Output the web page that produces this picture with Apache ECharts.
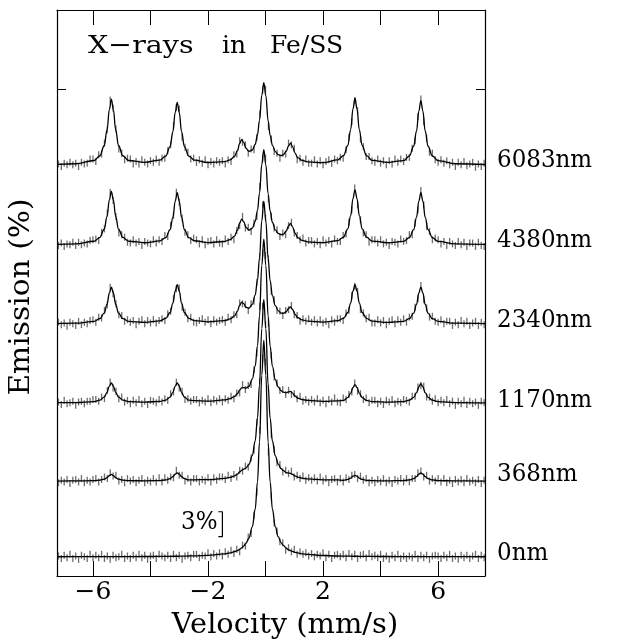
<!DOCTYPE html>
<html><head><meta charset="utf-8">
<script src="https://cdn.jsdelivr.net/npm/echarts@6/dist/echarts.min.js"></script>
<style>html,body{margin:0;padding:0;background:#fff}#c{width:625px;height:642px}</style>
</head><body><div id="c"></div>
<script>
// Spectrum labels (bottom to top) and vertical offsets (in %)
const labels = ['0nm', '368nm', '1170nm', '2340nm', '4380nm', '6083nm'];
const offsets = [2.3, 11.4, 20.8, 30.3, 39.8, 49.4];
const xTicks = [-6, -4, -2, 0, 2, 4, 6];
const xTickLabels = [-6, -2, 2, 6];
const yTicks = [58.5];
// 3% scale bar (velocity, emission)
const scaleBarX = [-1.64, -1.50, -1.50, -1.64];
const scaleBarY = [7.72, 7.72, 4.72, 4.72];

// Fitted curves: velocity samples and emission (%) above each baseline
const fitVelocity = [-7.25,-6.6,
-5.96,-5.76,-5.61,-5.51,-5.43,-5.36,-5.29,-5.21,-5.11,-4.96,-4.76,
-4.2,
-3.67,-3.47,-3.32,-3.22,-3.14,-3.07,-3.00,-2.92,-2.82,-2.67,-2.47,
-2.0,
-1.43,-1.23,-1.08,-0.98,-0.90,-0.83,-0.76,-0.68,-0.58,-0.46,-0.36,-0.28,-0.21,-0.13,-0.06,0.01,0.09,0.16,0.24,0.34,0.44,0.54,0.62,0.72,0.80,0.87,0.94,1.02,1.12,1.27,1.47,
2.0,
2.51,2.71,2.86,2.96,3.04,3.11,3.18,3.26,3.36,3.51,3.71,
4.25,
4.80,5.00,5.15,5.25,5.33,5.40,5.47,5.55,5.65,5.80,6.00,
6.6,7.63];
const fit0 = [0.01,0.02,
0.02,0.02,0.02,0.02,0.02,0.02,0.02,0.02,0.03,0.03,0.03,
0.04,
0.05,0.06,0.06,0.07,0.07,0.07,0.08,0.08,0.09,0.1,0.12,
0.17,
0.35,0.47,0.62,0.75,0.91,1.07,1.3,1.63,2.24,3.59,5.72,9.0,13.78,21.84,26.0,21.84,13.78,9.0,5.72,3.59,2.42,1.72,1.38,1.04,0.86,0.75,0.65,0.55,0.47,0.36,0.29,
0.16,
0.1,0.09,0.08,0.08,0.07,0.07,0.07,0.06,0.06,0.06,0.05,
0.04,
0.03,0.03,0.03,0.02,0.02,0.02,0.02,0.02,0.02,0.02,0.02,
0.02,0.01];
const fit368 = [0.01,0.02,
0.05,0.11,0.23,0.42,0.67,0.8,0.67,0.42,0.23,0.11,0.05,
0.04,
0.07,0.14,0.29,0.53,0.84,1.0,0.84,0.53,0.29,0.14,0.16,
0.18,
0.32,0.45,0.64,0.84,1.1,1.29,1.43,1.57,1.99,3.07,4.84,7.57,11.57,18.33,21.82,18.32,11.56,7.55,4.82,3.03,2.07,1.5,1.25,1.03,0.97,0.93,0.8,0.62,0.48,0.35,0.26,
0.15,
0.15,0.1,0.2,0.37,0.59,0.7,0.59,0.37,0.2,0.1,0.05,
0.03,
0.07,0.14,0.29,0.53,0.84,1.0,0.84,0.53,0.29,0.14,0.07,
0.02,0.01];
const fit1170 = [0.02,0.04,
0.16,0.33,0.7,1.27,2.02,2.4,2.02,1.27,0.7,0.33,0.16,
0.09,
0.18,0.33,0.7,1.27,2.02,2.4,2.02,1.27,0.7,0.33,0.26,
0.2,
0.35,0.51,0.76,1.1,1.53,1.8,1.82,1.76,1.98,2.86,4.41,6.86,10.45,16.51,19.66,16.52,10.45,6.85,4.38,2.79,1.93,1.46,1.28,1.21,1.33,1.37,1.16,0.83,0.58,0.4,0.29,
0.18,
0.24,0.3,0.64,1.17,1.85,2.2,1.85,1.17,0.64,0.3,0.15,
0.09,
0.15,0.32,0.67,1.22,1.93,2.3,1.93,1.22,0.67,0.32,0.15,
0.04,0.01];
const fit2340 = [0.03,0.07,
0.29,0.61,1.28,2.33,3.7,4.4,3.7,2.33,1.28,0.61,0.29,
0.17,
0.35,0.65,1.36,2.49,3.95,4.7,3.95,2.49,1.36,0.65,0.39,
0.24,
0.38,0.58,0.94,1.49,2.2,2.61,2.43,1.99,1.86,2.34,3.45,5.24,7.9,12.4,14.73,12.38,7.86,5.18,3.35,2.18,1.59,1.29,1.25,1.45,1.84,2.04,1.72,1.17,0.73,0.47,0.32,
0.21,
0.38,0.65,1.36,2.49,3.95,4.7,3.95,2.49,1.36,0.65,0.31,
0.17,
0.29,0.61,1.28,2.33,3.7,4.4,3.7,2.33,1.28,0.61,0.29,
0.07,0.02];
const fit4380 = [0.04,0.1,
0.42,0.88,1.86,3.39,5.38,6.4,5.38,3.39,1.86,0.88,0.42,
0.24,
0.47,0.86,1.81,3.31,5.25,6.25,5.25,3.31,1.81,0.86,0.48,
0.26,
0.39,0.62,1.04,1.72,2.59,3.08,2.76,2.1,1.75,1.99,2.79,4.13,6.17,9.64,11.42,9.61,6.12,4.06,2.67,1.78,1.36,1.2,1.27,1.65,2.25,2.55,2.15,1.43,0.86,0.52,0.34,
0.24,
0.5,0.91,1.91,3.5,5.54,6.6,5.54,3.5,1.91,0.91,0.44,
0.24,
0.41,0.86,1.81,3.31,5.25,6.25,5.25,3.31,1.81,0.86,0.41,
0.11,0.03];
const fit6083 = [0.05,0.13,
0.52,1.09,2.29,4.19,6.64,7.9,6.64,4.19,2.29,1.09,0.52,
0.29,
0.57,1.04,2.18,3.98,6.3,7.5,6.3,3.98,2.18,1.04,0.56,
0.28,
0.38,0.6,1.0,1.68,2.54,3.02,2.69,2.01,1.62,1.78,2.44,3.6,5.35,8.34,9.87,8.32,5.31,3.53,2.33,1.58,1.22,1.11,1.21,1.63,2.28,2.6,2.19,1.44,0.86,0.53,0.35,
0.26,
0.59,1.1,2.32,4.24,6.72,8.0,6.72,4.24,2.32,1.1,0.53,
0.3,
0.51,1.06,2.23,4.08,6.47,7.7,6.47,4.08,2.23,1.06,0.51,
0.13,0.04];

// Measured channels: velocity (mm/s) and counts as emission above baseline, in units of 0.1 %
const dataVelocity = [-7.2,-7.1,-7.0,-6.9,-6.8,-6.7,-6.6,-6.5,-6.4,-6.3,-6.2,-6.1,-6.0,
-5.9,-5.8,-5.7,-5.6,-5.5,-5.4,-5.3,-5.2,-5.1,-5.0,-4.9,-4.8,
-4.7,-4.6,-4.5,-4.4,-4.3,-4.2,-4.1,-4.0,-3.9,-3.8,-3.7,
-3.6,-3.5,-3.4,-3.3,-3.2,-3.1,-3.0,-2.9,-2.8,-2.7,-2.6,-2.5,
-2.4,-2.3,-2.2,-2.1,-2.0,-1.9,-1.8,-1.7,-1.6,
-1.5,-1.4,-1.3,-1.2,-1.1,-1.0,-0.9,-0.8,-0.7,-0.6,-0.5,-0.4,-0.3,-0.2,-0.1,0.0,0.1,0.2,0.3,0.4,0.5,0.6,0.7,0.8,0.9,1.0,1.1,1.2,1.3,1.4,1.5,
1.6,1.7,1.8,1.9,2.0,2.1,2.2,2.3,2.4,2.5,
2.6,2.7,2.8,2.9,3.0,3.1,3.2,3.3,3.4,3.5,3.6,3.7,
3.8,3.9,4.0,4.1,4.2,4.3,4.4,4.5,4.6,4.7,4.8,
4.9,5.0,5.1,5.2,5.3,5.4,5.5,5.6,5.7,5.8,5.9,
6.0,6.1,6.2,6.3,6.4,6.5,6.6,6.7,6.8,6.9,7.0,7.1,7.2,7.3,7.4,7.5,7.6];
const data0 = [
1,-2,2,-1,3,-2,1,-3,2,0,-2,3,-1,
2,-1,3,-2,1,-3,2,-1,0,3,-2,1,
-2,2,-1,3,-1,2,-3,1,2,-2,3,
1,-1,2,-2,3,-1,2,-3,1,2,-1,3,
3,-1,2,1,5,0,4,1,5,
1,6,3,8,4,9,6,14,13,24,28,50,78,152,239,234,126,73,41,31,18,17,8,11,6,9,3,6,3,5,1,
4,0,3,1,5,-1,3,-2,2,3,
0,3,-1,4,0,3,-2,2,3,-1,4,0,
2,-1,3,-2,1,-3,2,-1,3,-2,1,
-2,1,-1,3,-2,2,-1,2,-3,1,2,
1,-2,2,-1,3,-2,1,-3,2,-1,2,-2,1,3,-2,2,-1];
const data368 = [
-2,1,-1,2,-3,1,2,-1,3,-2,1,-1,2,
3,-1,2,5,3,10,6,7,0,2,-2,3,
0,2,-2,1,3,-2,1,-1,3,-1,4,
-1,4,1,5,4,13,7,7,0,3,-1,3,
3,-1,2,0,4,-1,4,1,5,
5,2,7,3,8,5,13,12,18,17,28,37,71,120,210,188,112,56,38,22,20,11,13,9,12,5,7,3,6,1,4,
1,4,0,5,0,3,-2,2,3,-1,
3,-1,4,2,7,8,3,6,1,3,-2,1,
-2,2,-1,3,-2,1,-3,2,0,3,-1,
3,-1,3,3,10,12,5,7,0,3,0,
3,-1,3,-2,1,-3,2,-1,2,-2,3,-1,1,-2,2,-3,1];
const data1170 = [
1,-2,3,-1,0,2,-3,1,2,-1,2,2,4,
4,2,7,5,15,25,18,14,5,7,1,3,
-1,3,0,4,-1,2,-2,3,2,0,4,
1,5,3,11,13,25,18,14,4,5,2,4,
4,0,3,1,5,0,4,2,5,
1,5,3,8,5,12,12,22,16,21,22,40,60,116,180,177,96,57,31,24,15,16,10,15,10,11,5,8,2,4,1,
4,1,5,0,3,-1,4,1,6,1,
0,6,4,10,13,24,14,11,4,6,0,3,
3,-1,2,-2,3,1,4,-1,2,0,4,
3,1,8,8,19,21,20,7,7,2,5,
0,3,0,4,-1,2,-3,2,-1,3,-2,2,-1,1,-3,2,0];
const data2340 = [
2,-1,1,-3,2,0,-2,3,-1,2,0,4,5,
2,8,7,16,23,44,36,24,11,10,3,5,
2,4,-1,3,5,0,4,1,5,1,4,
6,4,12,15,30,42,43,20,14,6,8,2,
1,4,6,2,5,0,5,2,4,
5,2,8,5,11,11,25,24,23,16,24,27,50,81,143,127,78,39,29,16,15,10,16,17,22,11,10,3,6,3,6,
2,5,1,5,1,3,-1,5,2,6,
6,4,13,16,34,45,39,17,13,6,8,1,
1,5,1,4,-1,3,5,0,5,2,6,
2,8,9,20,30,46,29,19,8,9,3,
2,5,0,3,3,-2,2,-1,4,0,3,-2,1,3,-2,2,-1];
const data4380 = [
-1,2,-2,1,0,3,-1,3,0,2,1,5,6,
7,5,15,19,38,63,53,34,14,12,9,3,
2,6,2,4,-1,4,2,1,6,2,6,
4,11,10,23,35,63,51,32,15,12,5,8,
6,1,6,0,4,5,1,6,2,
1,7,4,9,6,17,23,34,20,21,16,26,34,70,104,104,55,34,20,18,10,14,12,23,27,14,11,6,8,2,5,
5,1,4,0,6,2,5,1,7,4,
4,11,13,27,42,68,48,30,14,12,3,6,
6,2,6,1,3,-1,4,3,1,7,4,
5,12,12,26,42,65,48,22,16,6,8,
6,1,4,-1,4,1,-1,4,0,3,-2,2,2,-2,3,-1,-2];
const data6083 = [
1,-2,2,0,3,0,2,-2,3,1,2,7,7,
4,12,13,26,42,78,68,43,19,14,6,8,
7,1,4,1,6,3,1,5,3,7,3,
8,8,17,24,47,69,67,33,21,15,7,8,
3,6,2,6,0,4,1,5,3,
5,1,6,4,12,13,29,27,24,14,19,18,33,61,90,91,46,31,16,14,8,14,13,26,24,20,6,8,3,7,2,
2,6,1,5,0,4,6,2,7,5,
9,8,18,33,52,77,65,31,22,10,10,5,
3,7,2,5,0,5,1,7,3,7,4,
9,9,20,29,58,79,52,32,15,14,6,
3,6,2,5,0,3,-2,3,0,4,-1,1,3,-3,1,-2,2];

const fits = [fit0, fit368, fit1170, fit2340, fit4380, fit6083];
const datas = [data0, data368, data1170, data2340, data4380, data6083];
fits.forEach((f, i) => { if (f.length !== fitVelocity.length) throw new Error('fit ' + labels[i] + ' len ' + f.length + ' vs ' + fitVelocity.length); });
datas.forEach((d, i) => { if (d.length !== dataVelocity.length) throw new Error('data ' + labels[i] + ' len ' + d.length + ' vs ' + dataVelocity.length); });

const FONT = 'DejaVu Serif';
const chart = echarts.init(document.getElementById('c'), null, { renderer: 'canvas' });
const series = [];
datas.forEach((d, i) => {
  series.push({
    type: 'scatter', silent: true, symbol: 'rect', symbolSize: [1.3, 7],
    itemStyle: { color: '#4a4a4a' },
    data: dataVelocity.map((v, j) => [v, offsets[i] + d[j] / 10]),
    z: 2
  });
});
fits.forEach((f, i) => {
  series.push({
    type: 'line', silent: true, showSymbol: false, smooth: 0.4, smoothMonotone: 'x',
    lineStyle: { color: '#000', width: 1.3 },
    data: fitVelocity.map((v, j) => [v, offsets[i] + f[j]]),
    z: 3
  });
});
series.push({
  type: 'line', silent: true, showSymbol: false,
  lineStyle: { color: '#000', width: 1.2 },
  data: scaleBarX.map((v, j) => [v, scaleBarY[j]]), z: 4
});

const minus = v => String(v).replace('-', '\u2212');
const xBase = {
  type: 'value', min: -7.25, max: 7.63,
  splitLine: { show: false },
  axisLine: { show: true, onZero: false, lineStyle: { color: '#000', width: 1.2 } },
  axisTick: { show: true, inside: true, length: 15, customValues: xTicks, lineStyle: { color: '#000', width: 1 } }
};
const yBase = {
  type: 'value', min: 0, max: 68,
  splitLine: { show: false },
  axisLine: { show: true, onZero: false, lineStyle: { color: '#000', width: 1.2 } },
  axisTick: { show: true, inside: true, length: 9, customValues: yTicks, lineStyle: { color: '#000', width: 1 } },
  axisLabel: { show: false }
};

const txt = (size) => size + 'px "' + FONT + '"';
const rightLabelY = [553, 474, 400, 320, 240, 160];
const graphics = labels.map((t, i) => ({
  type: 'text', x: 497, y: rightLabelY[i], scaleX: 0.92,
  style: { text: t, font: txt(25), fill: '#000', verticalAlign: 'middle' }
}));
graphics.push({ type: 'text', x: 88, y: 46, scaleX: 1.14, style: { text: 'X\u2212rays', font: txt(25), fill: '#000', verticalAlign: 'middle' } });
graphics.push({ type: 'text', x: 222, y: 46, style: { text: 'in', font: txt(25), fill: '#000', verticalAlign: 'middle' } });
graphics.push({ type: 'text', x: 270, y: 46, style: { text: 'Fe/SS', font: txt(25), fill: '#000', verticalAlign: 'middle' } });
graphics.push({ type: 'text', x: 181, y: 522, scaleX: 0.92, style: { text: '3%', font: txt(25), fill: '#000', verticalAlign: 'middle' } });
graphics.push({ type: 'text', x: 22, y: 297, rotation: Math.PI / 2, scaleX: 1.1,
  style: { text: 'Emission (%)', font: txt(27), fill: '#000', align: 'center', verticalAlign: 'middle' } });
graphics.push({ type: 'text', x: 285, y: 626, scaleX: 1.07,
  style: { text: 'Velocity (mm/s)', font: txt(27), fill: '#000', align: 'center', verticalAlign: 'middle' } });

chart.setOption({
  animation: false,
  backgroundColor: '#fff',
  grid: { left: 57, right: 140, top: 10, bottom: 66, containLabel: false },
  xAxis: [
    Object.assign({}, xBase, { position: 'bottom',
      axisLabel: { show: true, customValues: xTickLabels, formatter: minus, margin: 4,
        fontFamily: FONT, fontSize: 25, color: '#000' } }),
    Object.assign({}, xBase, { position: 'top', axisLabel: { show: false } })
  ],
  yAxis: [
    Object.assign({}, yBase, { position: 'left' }),
    Object.assign({}, yBase, { position: 'right' })
  ],
  series: series,
  graphic: graphics
});
</script></body></html>
